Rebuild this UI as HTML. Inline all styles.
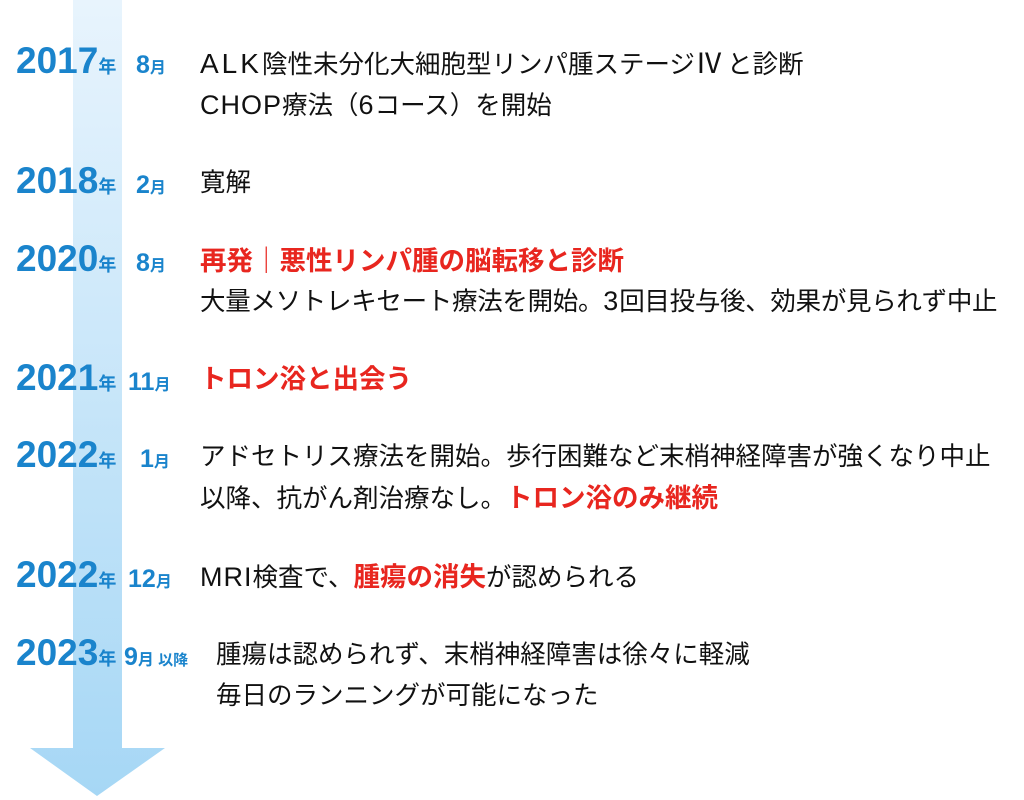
<!DOCTYPE html>
<html><head><meta charset="utf-8"><style>
body{margin:0;width:1024px;height:800px;background:#fff;position:relative;overflow:hidden;font-family:"Liberation Sans","Noto Sans CJK JP",sans-serif}
.y{position:absolute;left:16px;color:#1a84cc;font-weight:bold;font-size:37px;line-height:37px;white-space:nowrap;letter-spacing:0px}
.y small{font-size:18px;letter-spacing:0}
.m{position:absolute;color:#1a84cc;font-weight:bold;font-size:25px;line-height:25px;white-space:nowrap}
.m small{font-size:16px}
.t{position:absolute;left:200px;font-size:25.5px;line-height:30px;color:#111;white-space:nowrap}
.t b{font-weight:normal;font-size:27px;letter-spacing:1px}
.r{color:#e8261f;font-weight:bold;font-size:26.5px}
</style></head><body>
<svg width="1024" height="800" style="position:absolute;left:0;top:0">
<defs><linearGradient id="g" x1="0" y1="0" x2="0" y2="1"><stop offset="0" stop-color="#e8f4fd"/><stop offset="1" stop-color="#a6d7f5"/></linearGradient></defs>
<path d="M73 0 L122 0 L122 748 L165 748 L97 796 L30 748 L73 748 Z" fill="url(#g)"/>
</svg>
<div class="y" style="top:42px">2017<small>年</small></div><div class="m" style="left:136px;top:53px">8<small>月</small></div>
<div class="t" style="top:49px"><b style="letter-spacing:3px;font-size:28px">ALK</b>陰性未分化大細胞型リンパ腫ステージ<b style="letter-spacing:4px;font-size:28px">Ⅳ</b>と診断</div>
<div class="t" style="top:90px"><b>CHOP</b>療法（<b>6</b>コース）を開始</div>
<div class="y" style="top:162px">2018<small>年</small></div><div class="m" style="left:136px;top:173px">2<small>月</small></div>
<div class="t" style="top:168px">寛解</div>
<div class="y" style="top:240px">2020<small>年</small></div><div class="m" style="left:136px;top:251px">8<small>月</small></div>
<div class="t" style="top:246px"><span class="r">再発｜悪性リンパ腫の脳転移と診断</span></div>
<div class="t" style="top:286px;letter-spacing:-0.3px">大量メソトレキセート療法を開始。<b>3</b>回目投与後、効果が見られず中止</div>
<div class="y" style="top:359px">2021<small>年</small></div><div class="m" style="left:128px;top:370px">11<small>月</small></div>
<div class="t" style="top:364px"><span class="r">トロン浴と出会う</span></div>
<div class="y" style="top:436px">2022<small>年</small></div><div class="m" style="left:140px;top:447px">1<small>月</small></div>
<div class="t" style="top:442px">アドセトリス療法を開始。歩行困難など末梢神経障害が強くなり中止</div>
<div class="t" style="top:483px">以降、抗がん剤治療なし。<span class="r">トロン浴のみ継続</span></div>
<div class="y" style="top:556px">2022<small>年</small></div><div class="m" style="left:128px;top:567px">12<small>月</small></div>
<div class="t" style="top:562px"><b>MRI</b>検査で、<span class="r">腫瘍の消失</span>が認められる</div>
<div class="y" style="top:634px">2023<small>年</small></div><div class="m" style="left:124px;top:645px">9<small>月</small><small style="font-size:15px"> 以降</small></div>
<div class="t" style="top:640px;left:216px">腫瘍は認められず、末梢神経障害は徐々に軽減</div>
<div class="t" style="top:681px;left:216px">毎日のランニングが可能になった</div>
</body></html>
